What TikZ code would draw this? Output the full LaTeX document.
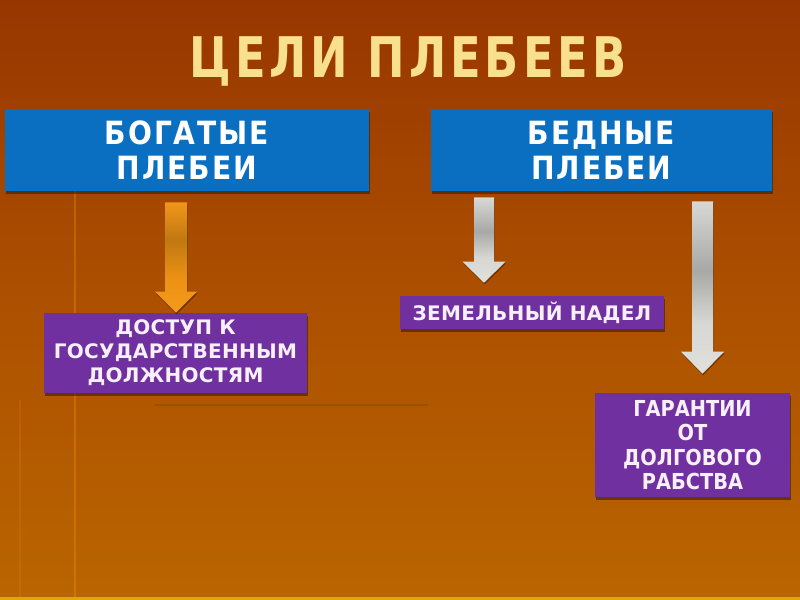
\documentclass[tikz,border=0pt]{standalone}
\usepackage{fontspec}
\usetikzlibrary{calc,shadows}
\newfontfamily\titlefont[FakeStretch=0.8,LetterSpace=7]{DejaVu Sans Bold}
\newfontfamily\headfont[FakeStretch=0.88,LetterSpace=6]{DejaVu Sans Bold}
\newfontfamily\boxfont[LetterSpace=1.5]{DejaVu Sans Bold}
\newfontfamily\narrowbox[FakeStretch=0.88]{DejaVu Sans Bold}
\definecolor{bgtop}{HTML}{983600}
\definecolor{bgmid}{HTML}{AD5000}
\definecolor{bgbot}{HTML}{B96500}
\definecolor{titlecol}{HTML}{F9E08C}
\definecolor{bluebox}{HTML}{0A6FC0}
\definecolor{purplebox}{HTML}{7030A0}
\definecolor{boxtext}{HTML}{F8F0F8}
\pgfdeclareverticalshading{orangearrow}{100bp}{
  color(0bp)=({rgb,255:red,242;green,154;blue,28});
  color(25bp)=({rgb,255:red,242;green,154;blue,28});
  color(40bp)=({rgb,255:red,238;green,146;blue,20});
  color(58bp)=({rgb,255:red,192;green,120;blue,18});
  color(75bp)=({rgb,255:red,242;green,150;blue,26});
  color(100bp)=({rgb,255:red,242;green,150;blue,26})}
\pgfdeclareverticalshading{grayarrow}{100bp}{
  color(0bp)=({rgb,255:red,224;green,224;blue,220});
  color(25bp)=({rgb,255:red,224;green,224;blue,220});
  color(40bp)=({rgb,255:red,214;green,214;blue,210});
  color(55bp)=({rgb,255:red,168;green,168;blue,166});
  color(75bp)=({rgb,255:red,216;green,216;blue,212});
  color(100bp)=({rgb,255:red,216;green,216;blue,212})}
\tikzset{
  boxshadow/.style={drop shadow={shadow xshift=0.6pt,shadow yshift=-2pt,opacity=0.55,fill=black!80!brown}},
  headbox/.style={rectangle,fill=bluebox,text=white,align=center,inner sep=0pt,
     font=\headfont\fontsize{24pt}{26.5pt}\selectfont,boxshadow},
  goalbox/.style={rectangle,fill=purplebox,text=boxtext,align=center,inner sep=0pt,boxshadow},
  arrowshadow/.style={drop shadow={shadow xshift=0.5pt,shadow yshift=-1.2pt,opacity=0.35,fill=black}},
  decoline/.style={line width=2pt,opacity=0.3}
}
% block arrow: start, end, shaft half width, head half width, head length, shading
\newcommand{\blockarrow}[6]{%
  \shade[shading=#6,arrowshadow]
    ($(#1)+(-#3,0)$) -- ($(#2)+(-#3,-#5)$) -- ($(#2)+(-#4,-#5)$) -- (#2)
    -- ($(#2)+(#4,-#5)$) -- ($(#2)+(#3,-#5)$) -- ($(#1)+(#3,0)$) -- cycle;}
\begin{document}
\begin{tikzpicture}[x=0.75pt,y=-0.75pt]
\useasboundingbox (0,0) rectangle (800,600);
% background
\shade[top color=bgtop,bottom color=bgmid] (0,0) rectangle (800,300);
\shade[top color=bgmid,bottom color=bgbot] (0,300) rectangle (800,600);
\fill[yellow!70!orange,opacity=0.6] (0,597) rectangle (800,600);
% faint decorative lines
\draw[decoline,color=orange!80!yellow] (75,190) -- (75,597);
\draw[decoline,color=orange!80!yellow,opacity=0.15] (20,400) -- (20,597);
\draw[decoline,color=black!60!brown,opacity=0.22] (155,405) -- (428,405);

% title
\node[text=titlecol,font=\titlefont\fontsize{42pt}{48pt}\selectfont] (title) at (408,61) {ЦЕЛИ ПЛЕБЕЕВ};

% header boxes
\node[headbox,minimum width=273pt,minimum height=61.5pt] (rich) at (187,150) {БОГАТЫЕ\\ПЛЕБЕИ};
\node[headbox,minimum width=255.75pt,minimum height=61.5pt] (poor) at (601.5,150) {БЕДНЫЕ\\ПЛЕБЕИ};

% goal boxes
\node[goalbox,minimum width=197.25pt,minimum height=60pt,
      font=\boxfont\fontsize{15pt}{18pt}\selectfont] (access) at (175.5,353)
      {ДОСТУП К\\ГОСУДАРСТВЕННЫМ\\ДОЛЖНОСТЯМ};
\node[goalbox,minimum width=198pt,minimum height=24.75pt,
      font=\boxfont\fontsize{15pt}{18pt}\selectfont] (land) at (532,312.5)
      {ЗЕМЕЛЬНЫЙ НАДЕЛ};
\node[goalbox,minimum width=146.25pt,minimum height=78pt,
      font=\narrowbox\fontsize{16.5pt}{18.4pt}\selectfont] (guar) at (692.5,445)
      {ГАРАНТИИ\\ОТ\\ДОЛГОВОГО\\РАБСТВА};

% arrows
\coordinate (xa) at (176,0);
\coordinate (xb) at (484,0);
\coordinate (xc) at (702.5,0);
\coordinate (a1s) at ([yshift=-8.25pt]rich.south -| xa);
\coordinate (a1e) at (access.north -| xa);
\coordinate (a2s) at ([yshift=-4.5pt]poor.south -| xb);
\coordinate (a2e) at ([yshift=9.75pt]land.north -| xb);
\coordinate (a3s) at ([yshift=-7.5pt]poor.south -| xc);
\coordinate (a3e) at ([yshift=14.25pt]guar.north -| xc);
\blockarrow{a1s}{a1e}{11}{21}{21}{orangearrow}
\blockarrow{a2s}{a2e}{10}{21.5}{21}{grayarrow}
\blockarrow{a3s}{a3e}{10.5}{21.5}{22}{grayarrow}
\end{tikzpicture}
\end{document}
